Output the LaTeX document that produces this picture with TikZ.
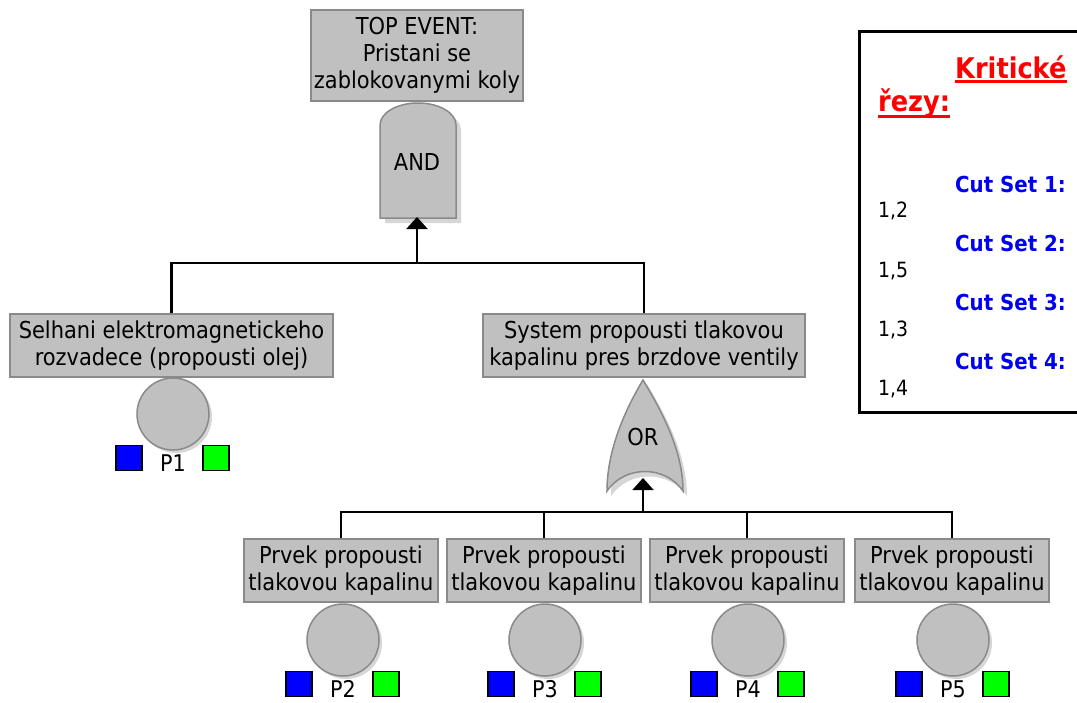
\documentclass[tikz,border=0pt]{standalone}
\usepackage{fontspec}
\setmainfont{DejaVu Sans}
\newfontfamily\condfont{DejaVu Sans Condensed}
\usetikzlibrary{arrows.meta}
\definecolor{gfill}{HTML}{C0C0C0}
\definecolor{gline}{HTML}{8A8A8A}
\definecolor{gshadow}{HTML}{D6D6D6}
\definecolor{bsq}{HTML}{0000FF}
\definecolor{gsq}{HTML}{00FF00}
\definecolor{csblue}{HTML}{0000F0}
\definecolor{csred}{HTML}{FF0000}
\begin{document}
\begin{tikzpicture}[x=1pt,y=1pt,
  evbox/.style={draw=gline,fill=gfill,line width=1.5pt,inner sep=0pt,align=center,
    font=\condfont\fontsize{23.3}{27}\selectfont},
  gateshape/.style={draw=gline,fill=gfill,line width=1.5pt},
  gateshadow/.style={fill=gshadow},
  basic/.style={circle,draw=gline,fill=gfill,line width=1.5pt,minimum size=72pt,inner sep=0pt},
  bluesq/.style={draw=black,fill=bsq,line width=1.2pt,minimum width=26pt,minimum height=25pt,inner sep=0pt},
  greensq/.style={draw=black,fill=gsq,line width=1.2pt,minimum width=26pt,minimum height=25pt,inner sep=0pt},
  plabel/.style={anchor=base,inner sep=0pt,font=\condfont\fontsize{23}{27}\selectfont},
  gatelabel/.style={inner sep=0pt,font=\condfont\fontsize{23.3}{27}\selectfont},
  conn/.style={draw=black,line width=2pt},
  uparrow/.style={-{Triangle[width=21pt,length=12pt]}},
  cstitle/.style={anchor=base west,inner sep=0pt,text=csred,font=\condfont\fontsize{28.5}{32}\selectfont\bfseries},
  csitem/.style={anchor=base west,inner sep=0pt,text=csblue,font=\condfont\fontsize{22}{26}\selectfont\bfseries},
  csval/.style={anchor=base west,inner sep=0pt,font=\condfont\fontsize{21}{24}\selectfont},
]
\useasboundingbox (0,0) rectangle (1077,-702);
\fill[white] (0,0) rectangle (1077,-702);

% top event
\node[evbox,minimum width=212pt,minimum height=91pt] (top) at (417,-55.5)
  {TOP EVENT:\\Pristani se\\zablokovanymi koly};

% AND gate
\fill[gateshadow] (385,-223) -- (385,-130) arc[start angle=180,end angle=0,x radius=38,y radius=22] -- (461,-223) -- cycle;
\draw[gateshape] (380,-218) -- (380,-125) arc[start angle=180,end angle=0,x radius=38,y radius=22] -- (456,-218) -- cycle;
\node[gatelabel] (andg) at (417,-162) {AND};
\coordinate (andin) at (417,-217);
\coordinate (bus1) at (417,-263);

% intermediate events
\node[evbox,minimum width=323pt,minimum height=63pt] (e1) at (171.5,-345.5)
  {Selhani elektromagnetickeho\\rozvadece (propousti olej)};
\node[evbox,minimum width=322pt,minimum height=63pt] (e2) at (644,-345.5)
  {System propousti tlakovou\\kapalinu pres brzdove ventily};

% OR gate
\fill[gateshadow] (647,-384) .. controls (629,-414) and (611,-454) .. (611,-496)
  .. controls (629,-470) and (669,-470) .. (687,-496)
  .. controls (687,-454) and (665,-414) .. (647,-384) -- cycle;
\draw[gateshape] (643,-380) .. controls (625,-410) and (607,-450) .. (607,-491)
  .. controls (625,-465) and (665,-465) .. (683,-491)
  .. controls (683,-450) and (661,-410) .. (643,-380) -- cycle;
\node[gatelabel] (org) at (643,-437) {OR};
\coordinate (orin) at (643,-478);
\coordinate (bus2) at (643,-512);

% basic event boxes
\node[evbox,minimum width=194pt,minimum height=63pt] (b2) at (341,-570.5) {Prvek propousti\\tlakovou kapalinu};
\node[evbox,minimum width=194pt,minimum height=63pt] (b3) at (544,-570.5) {Prvek propousti\\tlakovou kapalinu};
\node[evbox,minimum width=194pt,minimum height=63pt] (b4) at (747,-570.5) {Prvek propousti\\tlakovou kapalinu};
\node[evbox,minimum width=194pt,minimum height=63pt] (b5) at (952,-570.5) {Prvek propousti\\tlakovou kapalinu};

% basic events (circles)
\foreach \n/\cx/\cy in {1/173/414, 2/343/640, 3/545/640, 4/748/640, 5/953/640} {
  \fill[gshadow] (\cx+3,-\cy-3) circle[radius=36];
  \node[basic] (c\n) at (\cx,-\cy) {};
  \node[bluesq] (bq\n) at (\cx-44,-\cy-44) {};
  \node[greensq] (gq\n) at (\cx+43,-\cy-44) {};
  \node[plabel] (p\n) at (\cx,-\cy-57) {P\n};
}

% connectors
\draw[conn,line width=2.5pt] (e1.north) |- (bus1) -| (e2.north);
\draw[conn,line width=2.5pt,uparrow] (bus1) -- (andin);
\draw[conn] (b2.north) |- (bus2) -| (b5.north);
\draw[conn] (b3.north) |- (bus2);
\draw[conn] (b4.north) |- (bus2);
\draw[conn,uparrow] (bus2) -- (orin);

% cut sets panel
\node[draw=black,line width=2.5pt,anchor=north west,minimum width=240pt,minimum height=381pt,inner sep=0pt] (panel) at (858,-30) {};
\node[cstitle] (k1) at (955,-78) {Kritické};
\node[cstitle] (k2) at (878,-111) {řezy:};
\draw[csred,line width=2.5pt] ([yshift=-3.5pt]k1.base west) -- ([yshift=-3.5pt]k1.base east);
\draw[csred,line width=2.5pt] ([yshift=-5.5pt]k2.base west) -- ([yshift=-5.5pt]k2.base east);
\node[csitem] (cs1) at (955,-192) {Cut Set 1:};
\node[csval] (v1) at (878,-217) {1,2};
\node[csitem] (cs2) at (955,-251) {Cut Set 2:};
\node[csval] (v2) at (878,-277) {1,5};
\node[csitem] (cs3) at (955,-310) {Cut Set 3:};
\node[csval] (v3) at (878,-336) {1,3};
\node[csitem] (cs4) at (955,-369) {Cut Set 4:};
\node[csval] (v4) at (878,-395) {1,4};
\end{tikzpicture}
\end{document}
